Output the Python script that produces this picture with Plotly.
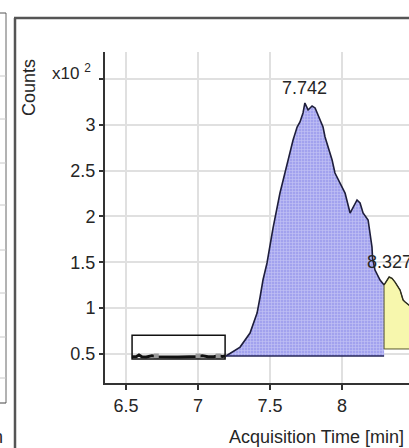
import plotly.graph_objects as go

# Extracted ion chromatogram segment (counts x10^2 vs. acquisition time in minutes)
peak1_time = [7.194, 7.292, 7.361, 7.410, 7.431, 7.451, 7.479, 7.500, 7.521, 7.569,
              7.618, 7.660, 7.688, 7.708, 7.729, 7.742, 7.764, 7.792, 7.813, 7.847,
              7.868, 7.882, 7.903, 7.931, 7.951, 7.986, 8.021, 8.056, 8.076, 8.104,
              8.125, 8.146, 8.181, 8.194, 8.208, 8.212, 8.229, 8.264, 8.285, 8.292]
peak1_counts = [0.478, 0.576, 0.729, 0.947, 1.122, 1.307, 1.493, 1.711, 1.875, 2.256,
                2.584, 2.834, 2.976, 3.031, 3.129, 3.238, 3.162, 3.205, 3.184, 3.053,
                2.976, 2.867, 2.758, 2.616, 2.474, 2.365, 2.256, 2.038, 2.104, 2.180,
                2.147, 2.038, 1.962, 1.820, 1.667, 1.547, 1.416, 1.307, 1.275, 1.253]
peak1_base = 0.478
peak1_rt = 7.742

peak2_time = [8.292, 8.310, 8.327, 8.347, 8.368, 8.403, 8.424, 8.438, 8.470, 8.500]
peak2_counts = [1.253, 1.300, 1.340, 1.325, 1.285, 1.198, 1.089, 1.067, 1.030, 0.990]
peak2_base = 0.555
peak2_rt = 8.327

# Baseline noise before the first peak and its integration window
noise_time = [6.54, 6.57, 6.59, 6.61, 6.64, 6.68, 6.72, 6.78, 6.86, 6.94, 7.00,
              7.03, 7.07, 7.11, 7.14, 7.17, 7.19]
noise_counts = [0.470, 0.470, 0.490, 0.470, 0.468, 0.480, 0.470, 0.466, 0.468, 0.470,
                0.472, 0.482, 0.470, 0.470, 0.482, 0.472, 0.478]
noise_marks_time = [6.71, 7.00, 7.14]
noise_marks_counts = [0.478, 0.478, 0.478]
window_time = [6.542, 7.188]
window_counts = [0.445, 0.706]

y_ticks = [0.5, 1, 1.5, 2, 2.5, 3, 3.5]
y_tick_text = ["0.5", "1", "1.5", "2", "2.5", "3", " "]
x_ticks = [6.5, 7, 7.5, 8]
x_tick_text = ["6.5", "7", "7.5", "8"]

W, H = 409, 448
L, R, T, B = 105, 0, 52, 65
PW, PH = W - L - R, H - T - B


def px(xp):
    return (xp - L) / PW


def py(yp):
    return (H - B - yp) / PH


FONT = "Liberation Sans, Arial, sans-serif"
TXT = "#262626"

fig = go.Figure()

# first peak: filled area
fig.add_trace(go.Scatter(
    x=peak1_time + [peak1_time[-1], peak1_time[0]],
    y=peak1_counts + [peak1_base, peak1_base],
    fill="toself", mode="lines", line=dict(width=0),
    fillcolor="#a9a9f0",
    fillpattern=dict(shape="+", fgcolor="#e6e6fb", bgcolor="#a2a2ee",
                     size=3, solidity=0.35),
    hoverinfo="skip", showlegend=False))
# first peak outline and baseline
fig.add_trace(go.Scatter(x=peak1_time, y=peak1_counts, mode="lines",
                         line=dict(color="#1e1e3c", width=1.6),
                         showlegend=False))
fig.add_trace(go.Scatter(x=[peak1_time[0], peak1_time[-1]],
                         y=[peak1_base, peak1_base], mode="lines",
                         line=dict(color="#26265a", width=1.6),
                         showlegend=False))

# second peak
fig.add_trace(go.Scatter(
    x=peak2_time + [peak2_time[-1], peak2_time[0], peak2_time[0]],
    y=peak2_counts + [peak2_base, peak2_base, peak2_counts[0]],
    fill="toself", mode="lines", line=dict(color="#5a5a30", width=1),
    fillcolor="#f7f7ad", showlegend=False))
fig.add_trace(go.Scatter(x=peak2_time, y=peak2_counts, mode="lines",
                         line=dict(color="#2e2e20", width=1.4),
                         showlegend=False))

# baseline noise
fig.add_trace(go.Scatter(x=noise_time, y=noise_counts, mode="lines",
                         line=dict(color="#111111", width=3),
                         showlegend=False))
fig.add_trace(go.Scatter(x=noise_marks_time, y=noise_marks_counts, mode="markers",
                         marker=dict(symbol="square", size=5, color="#9a9a9a"),
                         showlegend=False))

shapes = [
    # integration window
    dict(type="rect", xref="x", yref="y",
         x0=window_time[0], x1=window_time[1],
         y0=window_counts[0], y1=window_counts[1],
         line=dict(color="#111111", width=1.5), fillcolor="rgba(0,0,0,0)"),
    # outer frame of the chart panel
    dict(type="line", xref="paper", yref="paper",
         x0=px(15), x1=px(15), y0=py(18), y1=py(450),
         line=dict(color="#555555", width=2.5)),
    dict(type="line", xref="paper", yref="paper",
         x0=px(14), x1=px(412), y0=py(18), y1=py(18),
         line=dict(color="#555555", width=2.5)),
    # neighbouring table column on the left
    dict(type="line", xref="paper", yref="paper",
         x0=px(6), x1=px(6), y0=py(13), y1=py(403),
         line=dict(color="#666666", width=1)),
    dict(type="line", xref="paper", yref="paper",
         x0=px(-2), x1=px(6), y0=py(13), y1=py(13),
         line=dict(color="#555555", width=1)),
    dict(type="line", xref="paper", yref="paper",
         x0=px(-2), x1=px(6), y0=py(403), y1=py(403),
         line=dict(color="#444444", width=1)),
]
for row_y in [76, 119, 163, 205, 250, 293, 337, 378]:
    shapes.append(dict(type="line", xref="paper", yref="paper",
                       x0=px(-2), x1=px(6), y0=py(row_y), y1=py(row_y),
                       line=dict(color="#c8c8c8", width=1)))

annotations = [
    dict(x=peak1_rt, y=3.40, xref="x", yref="y", text=f"{peak1_rt:.3f}",
         showarrow=False, font=dict(family=FONT, size=18, color=TXT)),
    dict(x=peak2_rt, y=1.50, xref="x", yref="y", text=f"{peak2_rt:.3f}",
         showarrow=False, font=dict(family=FONT, size=18, color=TXT)),
    dict(x=px(93), y=py(72), xref="paper", yref="paper", xanchor="right",
         yanchor="middle", text="x10 <sup>2</sup>", showarrow=False,
         font=dict(family=FONT, size=17, color=TXT)),
    dict(x=px(29), y=py(88), xref="paper", yref="paper", textangle=-90,
         xanchor="center", yanchor="middle",
         text="Counts", showarrow=False,
         font=dict(family=FONT, size=18, color=TXT)),
    dict(x=px(406), y=py(437), xref="paper", yref="paper", xanchor="right",
         yanchor="middle", text="Acquisition Time [min]", showarrow=False,
         font=dict(family=FONT, size=18, color=TXT)),
    dict(x=px(5), y=py(437), xref="paper", yref="paper", xanchor="right",
         yanchor="middle", text="n", showarrow=False,
         font=dict(family=FONT, size=18, color=TXT)),
]

fig.update_layout(
    width=W, height=H,
    margin=dict(l=L, r=R, t=T, b=B, pad=0),
    paper_bgcolor="white", plot_bgcolor="white",
    shapes=shapes, annotations=annotations,
    showlegend=False,
    xaxis=dict(range=[6.354, 8.465], tickvals=x_ticks, ticktext=x_tick_text,
               showgrid=True, gridcolor="#e0e0e0", gridwidth=1.5,
               zeroline=False, showline=True, linecolor="#333333", linewidth=2,
               ticks="outside", ticklen=5, tickwidth=2, tickcolor="#333333",
               tickfont=dict(family=FONT, size=18, color=TXT), fixedrange=True),
    yaxis=dict(range=[0.184, 3.794], tickvals=y_ticks, ticktext=y_tick_text,
               showgrid=True, gridcolor="#e0e0e0", gridwidth=1.5,
               zeroline=False, showline=True, linecolor="#333333", linewidth=2,
               ticks="outside", ticklen=4, tickwidth=2, tickcolor="#333333",
               tickfont=dict(family=FONT, size=18, color=TXT), fixedrange=True),
)

fig.write_html("out.html")
